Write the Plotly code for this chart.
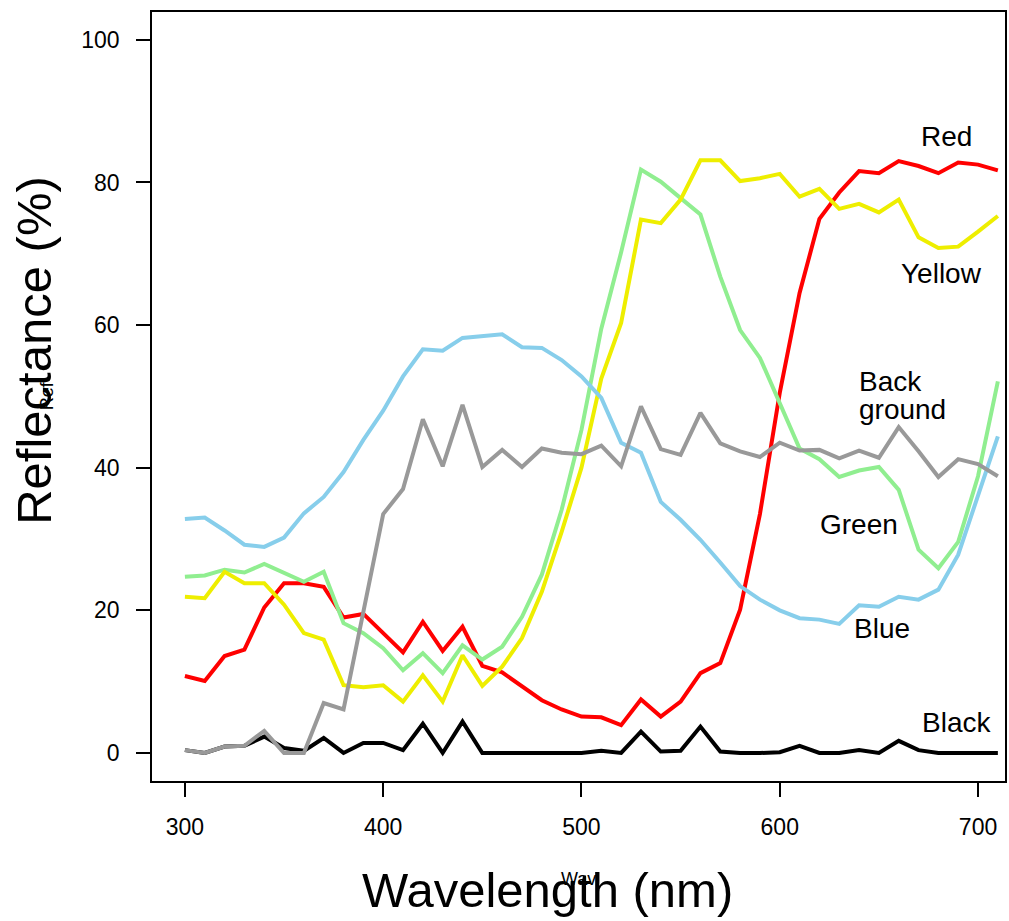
import plotly.graph_objects as go

wavelength = list(range(300, 711, 10))

black = [0.4, 0.0, 0.9, 1.0, 2.3, 0.7, 0.3, 2.1, 0.0, 1.4, 1.4, 0.4, 4.1, 0.0, 4.4, 0.0,
         0.0, 0.0, 0.0, 0.0, 0.0, 0.3, 0.0, 3.0, 0.2, 0.3, 3.7, 0.2, 0.0, 0.0, 0.1, 1.0,
         0.0, 0.0, 0.4, 0.0, 1.7, 0.4, 0.0, 0.0, 0.0, 0.0]
background = [0.4, 0.0, 0.9, 1.0, 3.1, 0.0, 0.0, 7.0, 6.1, 20.0, 33.5, 37.0, 46.8, 40.2, 48.8, 40.1,
              42.5, 40.1, 42.7, 42.1, 41.9, 43.1, 40.2, 48.6, 42.6, 41.8, 47.7, 43.4, 42.3, 41.5,
              43.5, 42.4, 42.5, 41.3, 42.4, 41.4, 45.7, 42.3, 38.7, 41.2, 40.5, 38.8]
blue = [32.8, 33.0, 31.2, 29.2, 28.9, 30.2, 33.6, 35.9, 39.4, 43.9, 48.0, 52.8, 56.6, 56.4, 58.2, 58.5,
        58.7, 56.9, 56.8, 55.1, 52.8, 49.8, 43.5, 42.1, 35.2, 32.7, 29.9, 26.7, 23.4, 21.5,
        20.0, 18.9, 18.7, 18.1, 20.7, 20.5, 21.9, 21.5, 22.9, 27.8, 36.0, 44.4]
green = [24.7, 24.9, 25.7, 25.3, 26.5, 25.3, 24.0, 25.4, 18.2, 16.8, 14.7, 11.6, 14.0, 11.2, 15.1, 13.1,
         14.9, 19.1, 25.0, 34.1, 45.3, 59.5, 70.2, 81.8, 80.1, 77.8, 75.5, 66.8, 59.3, 55.4,
         49.0, 42.7, 41.2, 38.7, 39.6, 40.1, 36.9, 28.5, 25.9, 29.6, 38.8, 52.1]
yellow = [21.9, 21.7, 25.4, 23.8, 23.8, 20.8, 16.8, 15.9, 9.5, 9.2, 9.5, 7.2, 10.9, 7.2, 13.7, 9.4,
          12.1, 16.1, 22.6, 31.0, 40.0, 52.5, 60.3, 74.8, 74.3, 77.6, 83.1, 83.1, 80.2, 80.6,
          81.2, 78.0, 79.1, 76.3, 77.0, 75.8, 77.6, 72.3, 70.8, 71.0, 73.1, 75.3]
red = [10.8, 10.1, 13.6, 14.5, 20.4, 23.8, 23.8, 23.3, 19.0, 19.5, 16.8, 14.1, 18.4, 14.3, 17.7, 12.2,
       11.3, 9.3, 7.4, 6.1, 5.1, 5.0, 3.9, 7.5, 5.1, 7.2, 11.2, 12.6, 20.1, 33.5,
       50.5, 64.5, 74.9, 78.6, 81.6, 81.3, 83.0, 82.3, 81.3, 82.8, 82.5, 81.7]

series = [
    ("Red", red, "#FF0000"),
    ("Green", green, "#90EE90"),
    ("Yellow", yellow, "#EEEE00"),
    ("Blue", blue, "#87CEEB"),
    ("Black", black, "#000000"),
    ("Background", background, "#999999"),
]

x_ticks = [300, 400, 500, 600, 700]
y_ticks = [0, 20, 40, 60, 80, 100]

labels = [
    ("Red", 683.9, 86.4, "center"),
    ("Yellow", 681.4, 67.3, "center"),
    ("Back", 639.1, 52.1, "left"),
    ("ground", 639.1, 48.1, "left"),
    ("Green", 640.1, 32.1, "center"),
    ("Blue", 651.7, 17.4, "center"),
    ("Black", 688.9, 4.3, "center"),
]

fig = go.Figure()
for name, vals, col in series:
    fig.add_trace(go.Scatter(x=wavelength, y=vals, mode="lines", name=name,
                             line=dict(color=col, width=4), showlegend=False))

font_family = "Liberation Sans, Arial, Helvetica, sans-serif"
for txt, lx, ly, align in labels:
    fig.add_annotation(x=lx, y=ly, xref="x", yref="y", text=txt, showarrow=False,
                       xanchor=align, yanchor="middle",
                       font=dict(size=28, color="black", family=font_family))

# axis titles
fig.add_annotation(x=(548 - 152) / 855, y=(781 - 890) / 769, xref="paper", yref="paper",
                   text="Wavelength (nm)", showarrow=False, xanchor="center", yanchor="middle",
                   font=dict(size=49, color="black", family=font_family))
fig.add_annotation(x=(33 - 152) / 855, y=(781 - 350.5) / 769, xref="paper", yref="paper",
                   text="Reflectance (%)", showarrow=False, textangle=-90,
                   xanchor="center", yanchor="middle",
                   font=dict(size=49, color="black", family=font_family))
# small overlapping texts
fig.add_annotation(x=(580 - 152) / 855, y=(781 - 879) / 769, xref="paper", yref="paper",
                   text="Wav", showarrow=False, xanchor="center", yanchor="middle",
                   font=dict(size=18, color="black", family=font_family))
fig.add_annotation(x=(47 - 152) / 855, y=(781 - 396) / 769, xref="paper", yref="paper",
                   text="Ref", showarrow=False, textangle=-90, xanchor="center", yanchor="middle",
                   font=dict(size=18, color="black", family=font_family))

fig.update_layout(
    width=1009, height=921,
    margin=dict(l=152, r=2, t=12, b=140),
    plot_bgcolor="white", paper_bgcolor="white",
    font=dict(family=font_family, color="black"),
)
fig.update_xaxes(range=[283.4, 713.6], tickvals=x_ticks, ticktext=[str(v) for v in x_ticks],
                 ticks="outside", ticklen=14, tickwidth=1.5, tickcolor="black",
                 showline=True, linecolor="black", linewidth=1.5, mirror=True,
                 showgrid=False, zeroline=False, tickfont=dict(size=23, color="black"),
                 ticklabelstandoff=11)
fig.update_yaxes(range=[-3.93, 103.9], tickvals=y_ticks, ticktext=[str(v) for v in y_ticks],
                 ticks="outside", ticklen=14, tickwidth=1.5, tickcolor="black",
                 showline=True, linecolor="black", linewidth=1.5, mirror=True,
                 showgrid=False, zeroline=False, tickfont=dict(size=23, color="black"),
                 ticklabelstandoff=12)

fig.write_html("out.html", config={"displayModeBar": False},
               post_script="document.body.style.margin='0';document.body.style.overflow='hidden';")
